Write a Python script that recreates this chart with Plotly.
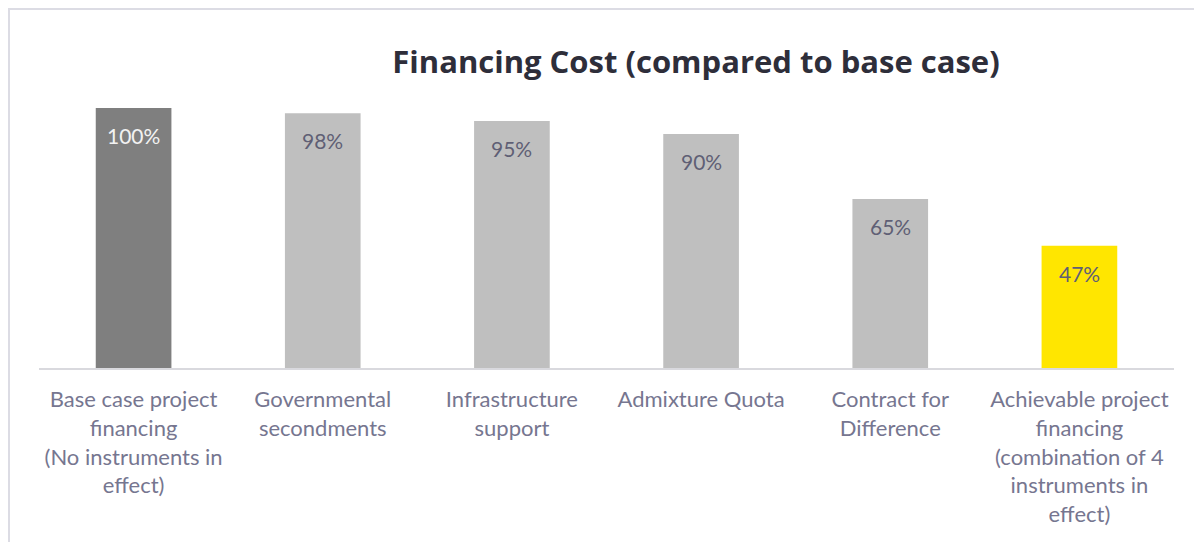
import plotly.graph_objects as go

categories = [
    "Base case project<br>financing<br>(No instruments in<br>effect)",
    "Governmental<br>secondments",
    "Infrastructure<br>support",
    "Admixture Quota",
    "Contract for<br>Difference",
    "Achievable project<br>financing<br>(combination of 4<br>instruments in<br>effect)",
]
values = [1.00, 0.98, 0.95, 0.90, 0.65, 0.47]
labels = ["100%", "98%", "95%", "90%", "65%", "47%"]
bar_colors = ["#7F7F7F", "#BFBFBF", "#BFBFBF", "#BFBFBF", "#BFBFBF", "#FFE600"]
label_colors = ["#F2F2F2", "#5F5F75", "#5F5F75", "#5F5F75", "#5F5F75", "#5F5F75"]

W, H = 1194, 542
L, R, T, B = 39, 20, 60, 174
plot_w = W - L - R
plot_h = H - T - B

fig = go.Figure()
fig.add_trace(go.Bar(
    x=list(range(len(categories))), y=values,
    marker=dict(color=bar_colors, line=dict(width=0)),
    width=0.4, hoverinfo="skip",
))

for i, (v, t, c) in enumerate(zip(values, labels, label_colors)):
    fig.add_annotation(x=i, y=v, text=t, showarrow=False, yanchor="top", yshift=-13,
                       font=dict(family="Lato, Open Sans, sans-serif", size=21, color=c))

# light border around the chart
fig.add_shape(type="rect", xref="paper", yref="paper",
              x0=(9 - L) / plot_w, x1=1.2, y0=-0.9, y1=(H - B - 9) / plot_h,
              line=dict(color="#DCDCE4", width=2), layer="below")

fig.update_layout(
    width=W, height=H,
    margin=dict(l=L, r=R, t=T, b=B),
    paper_bgcolor="white", plot_bgcolor="white",
    showlegend=False,
    title=dict(text="<b>Financing Cost (compared to base case)</b>",
               x=696 / W, xref="container", xanchor="center",
               y=1 - 62 / H, yref="container", yanchor="middle",
               font=dict(family="Open Sans, sans-serif", size=31, color="#2E2E3A")),
    xaxis=dict(tickmode="array", tickvals=list(range(len(categories))), ticktext=categories,
               range=[-0.5, len(categories) - 0.5],
               showline=True, linecolor="#D9D9DE", linewidth=2,
               showgrid=False, zeroline=False, ticks="",
               tickfont=dict(family="Lato, Open Sans, sans-serif", size=22, color="#767690"),
               ticklabelstandoff=11),
    yaxis=dict(range=[0, plot_h / 260], visible=False, showgrid=False, zeroline=False),
)

fig.write_html("out.html")
